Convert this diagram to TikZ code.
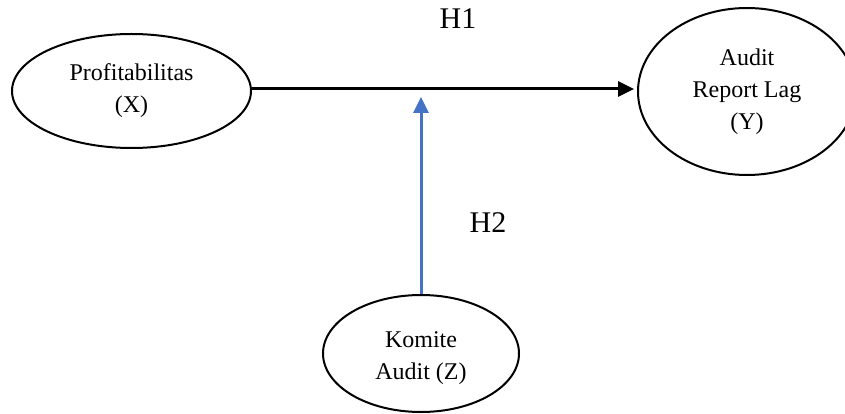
\documentclass[tikz,border=0pt]{standalone}
\usepackage{fontspec}
\setmainfont{Liberation Serif}
\usetikzlibrary{shapes.geometric,arrows.meta}
\definecolor{linkblue}{HTML}{4472C4}
\tikzset{
  var/.style={ellipse, draw=black, line width=2pt, inner sep=0pt, align=center,
    font={\fontsize{24}{32}\selectfont}},
  vartext/.style={inner sep=0pt, align=center, font={\fontsize{24}{32}\selectfont}},
  hyp/.style={font={\fontsize{30}{36}\selectfont}, inner sep=0pt},
  link/.style={line width=3pt, -{Triangle[length=16pt,width=15pt]}},
}
\begin{document}
\begin{tikzpicture}[x=1pt, y=-1pt]
  \useasboundingbox (0,0) rectangle (845,414);
  % variables
  \node[var, minimum width=239pt, minimum height=114pt] (p) at (131.5,91) {Profitabilitas\\(X)};
  \node[var, minimum width=218pt, minimum height=167pt] (y) at (747,91.5) {Audit\\Report Lag\\(Y)};
  \node[var, minimum width=196pt, minimum height=117pt] (z) at (421,353.5) {};
  \node[vartext] (zt) at (421,358) {Komite\\Audit (Z)};
  % hypothesis labels
  \node[hyp] (h1) at (458,19) {H1};
  \node[hyp] (h2) at (488,222.5) {H2};
  % paths
  \coordinate (m) at (421,97);
  \draw[link, black, shorten >=3pt] (p.east |- 0,89) -- (y.west |- 0,89);
  \draw[link, linkblue] (z.north) -- (m);
\end{tikzpicture}
\end{document}
